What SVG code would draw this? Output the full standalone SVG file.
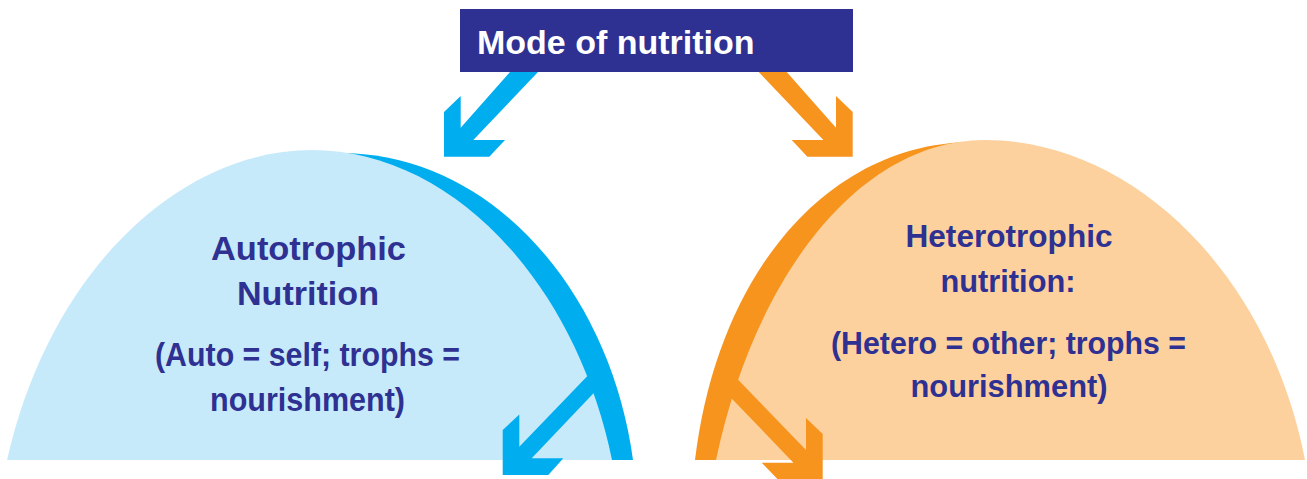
<svg xmlns="http://www.w3.org/2000/svg" width="1307" height="479" viewBox="0 0 1307 479">
<style>
.lbl{font-family:"Liberation Sans",Arial,sans-serif;font-weight:bold;fill:#2E3192;text-anchor:middle}
.l34{font-size:34px}
.l32{font-size:32px}
.title{font-family:"Liberation Sans",Arial,sans-serif;font-weight:bold;font-size:34px;fill:#FFFFFF}
.blue{fill:#00AEEF}
.orange{fill:#F7941E}
</style>
<rect width="1307" height="479" fill="#FFFFFF"/>
<g id="autotrophic">
<path class="blue" d="M335,153 C490,150 610,290 633,460 L560,460 Z"/>
<path fill="#C7EAFA" d="M7,460 C50,270 180,150 312,150 C450,150 575,280 612,460 Z"/>
<text class="lbl l34" x="308.5" y="260" textLength="195" lengthAdjust="spacingAndGlyphs">Autotrophic</text>
<text class="lbl l34" x="308" y="305" textLength="142" lengthAdjust="spacingAndGlyphs">Nutrition</text>
<text class="lbl l34" x="307.5" y="366" textLength="305" lengthAdjust="spacingAndGlyphs">(Auto = self; trophs =</text>
<text class="lbl l34" x="307.5" y="411" textLength="195" lengthAdjust="spacingAndGlyphs">nourishment)</text>
</g>
<g id="heterotrophic">
<path class="orange" d="M972,142 C830,143 718,270 695,460 L770,460 Z"/>
<path fill="#FDD19E" d="M716,460 C755,275 860,140 985,140 C1130,140 1268,270 1305,460 Z"/>
<text class="lbl l32" x="1009" y="247" textLength="207" lengthAdjust="spacingAndGlyphs">Heterotrophic</text>
<text class="lbl l32" x="1008" y="292" textLength="135" lengthAdjust="spacingAndGlyphs">nutrition:</text>
<text class="lbl l32" x="1008.5" y="354" textLength="355" lengthAdjust="spacingAndGlyphs">(Hetero = other; trophs =</text>
<text class="lbl l32" x="1009" y="397" textLength="197" lengthAdjust="spacingAndGlyphs">nourishment)</text>
</g>
<g id="title">
<rect x="460" y="9" width="393" height="63" fill="#2E3192"/>
<text class="title" x="477" y="54">Mode of nutrition</text>
</g>
<g id="connectors">
<polygon class="blue" points="510,72 538,72 473.3,140 505,140 489.3,156.7 444,156.7 444,112 460.7,96 460.7,127.7"/>
<polygon class="orange" points="786.7,72 758.7,72 823.4,140 791.7,140 807.4,156.7 852.7,156.7 852.7,112 836,96 836,127.7"/>
<polygon class="blue" points="596.3,366.7 603,383.3 531.7,458.3 563.3,458.3 548.3,475 502.7,475 502.7,430 519.3,414.5 519.3,446.7"/>
<polygon class="orange" points="728.7,370 722,388.4 793.4,462.7 761.7,462.7 777.4,479 822.7,479 822.7,434 806,418 806,450"/>
</g>
</svg>
